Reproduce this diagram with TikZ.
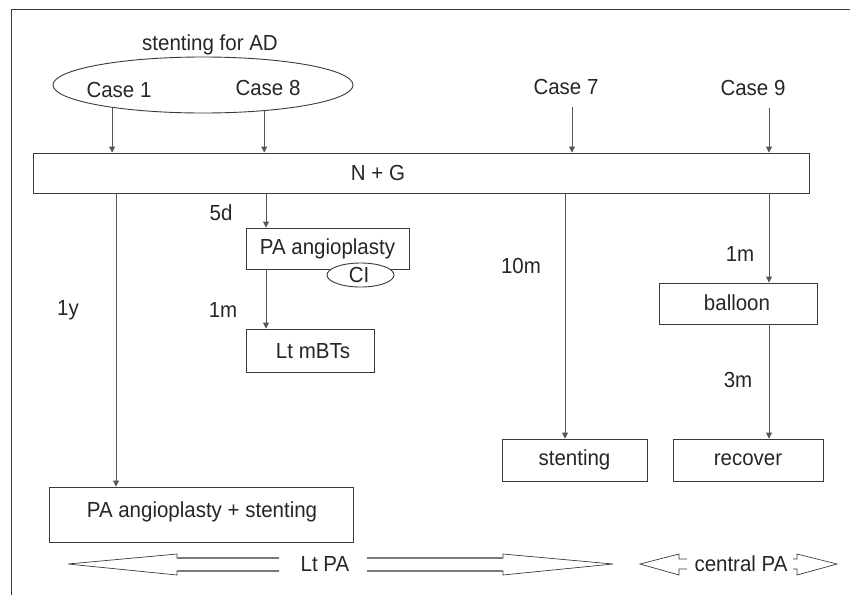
\documentclass[tikz,border=0pt]{standalone}
\usepackage{fontspec}
\setmainfont{Liberation Sans}[FakeStretch=0.94]
\usetikzlibrary{arrows.meta,shapes.geometric}
\definecolor{ink}{HTML}{262626}
\definecolor{boxc}{HTML}{3A3A3A}
\definecolor{linec}{HTML}{555555}
\definecolor{shaftc}{HTML}{7A7A7A}
\tikzset{
  txt/.style={inner sep=0pt, text=ink, font=\fontsize{21.8}{25}\selectfont},
  boxnode/.style={draw=boxc, line width=0.9pt, inner sep=0pt, fill=white},
  conn/.style={draw=linec, line width=0.9pt},
  arr/.style={conn, -{Triangle[length=6pt,width=6pt]}},
  blockarrow/.style={draw=boxc, line width=0.7pt, line join=miter},
  blockshaft/.style={draw=shaftc, line width=1.1pt}
}
\begin{document}
\begin{tikzpicture}[x=1pt,y=-1pt]
\useasboundingbox (0,0) rectangle (850,595);

% frame
\draw[boxc, line width=0.9pt] (11,595) -- (11,9) -- (850,9);

% column positions for the vertical connectors
\coordinate (x1) at (116,0);
\coordinate (x8) at (266,0);
\coordinate (x7) at (572,0);
\coordinate (x7b) at (565,0);
\coordinate (x9) at (769,0);

% top group
\node[txt] (ad) at (210,45) {stenting for AD};
\node[draw=boxc, line width=0.9pt, ellipse, inner sep=0pt,
      minimum width=300, minimum height=56] (ell) at (203,85) {};
\node[txt] (c1) at (119,90) {Case 1};
\node[txt] (c8) at (268,88) {Case 8};
\node[txt] (c7) at (566,87) {Case 7};
\node[txt] (c9) at (753,88) {Case 9};

% treatment bar
\node[boxnode, minimum width=776, minimum height=40] (ng) at (421,173) {};
\node[txt] (ngt) at (378,173) {N + G};

% boxes
\node[boxnode, minimum width=163, minimum height=41] (pa) at (327.5,248.5) {};
\node[txt] at (pa) {PA angioplasty};
\node[boxnode, ellipse, minimum width=67, minimum height=24] (ci) at (360.5,275) {};
\node[txt] at (359,275) {CI};
\node[boxnode, minimum width=128, minimum height=43] (mbt) at (310,350.5) {};
\node[txt] at (313,351) {Lt mBTs};
\node[boxnode, minimum width=304, minimum height=55] (pas) at (201,514.5) {};
\node[txt] at (202,512) {PA angioplasty + stenting};
\node[boxnode, minimum width=145, minimum height=42] (sten) at (574.5,460) {};
\node[txt] at (sten) {stenting};
\node[boxnode, minimum width=150, minimum height=42] (rec) at (748,460) {};
\node[txt] at (rec) {recover};
\node[boxnode, minimum width=158, minimum height=41] (bal) at (738,303.5) {};
\node[txt] at (737,303) {balloon};

% interval labels
\node[txt] (l5d) at (221,213) {5d};
\node[txt] (l1m) at (223,310) {1m};
\node[txt] (l1y) at (68,310) {1y};
\node[txt] (l10m) at (521,266) {10m};
\node[txt] (l1mb) at (740,254) {1m};
\node[txt] (l3m) at (738,380) {3m};

% connectors into the bar
\draw[arr] (ell.194.7) -- (ell.194.7 |- ng.north);
\draw[arr] (ell.337.6) -- (ell.337.6 |- ng.north);
\draw[arr] ([yshift=-12pt]c7.south -| x7) -- (ng.north -| x7);
\draw[arr] ([yshift=-12pt]c9.south -| x9) -- (ng.north -| x9);

% connectors out of the bar
\draw[arr] (ng.south -| x1) -- (pas.north -| x1);
\draw[arr] (ng.south -| x8) -- (pa.north -| x8);
\draw[arr] (pa.south -| x8) -- (mbt.north -| x8);
\draw[arr] (ng.south -| x7b) -- (sten.north -| x7b);
\draw[arr] (ng.south -| x9) -- (bal.north -| x9);
\draw[arr] (bal.south -| x9) -- (rec.north -| x9);

% extent arrows
\node[txt] (ltpa) at (325,564) {Lt PA};
\node[txt] (cpa) at (741,564) {central PA};
\draw[blockarrow] (279,558) -- (177,558) -- (177,554) -- (68,564) -- (177,575) -- (177,571) -- (279,571);
\draw[blockshaft] (279,558) -- (177,558) (279,571) -- (177,571);
\draw[blockarrow] (367,558) -- (503,558) -- (503,554) -- (613,564) -- (503,575) -- (503,571) -- (367,571);
\draw[blockshaft] (367,558) -- (503,558) (367,571) -- (503,571);
\draw[blockarrow] (687,559) -- (679,559) -- (679,554) -- (640,564) -- (679,575) -- (679,569) -- (687,569);
\draw[blockarrow] (793,559) -- (797,559) -- (797,554) -- (837,564) -- (797,575) -- (797,569) -- (793,569);
\end{tikzpicture}
\end{document}
